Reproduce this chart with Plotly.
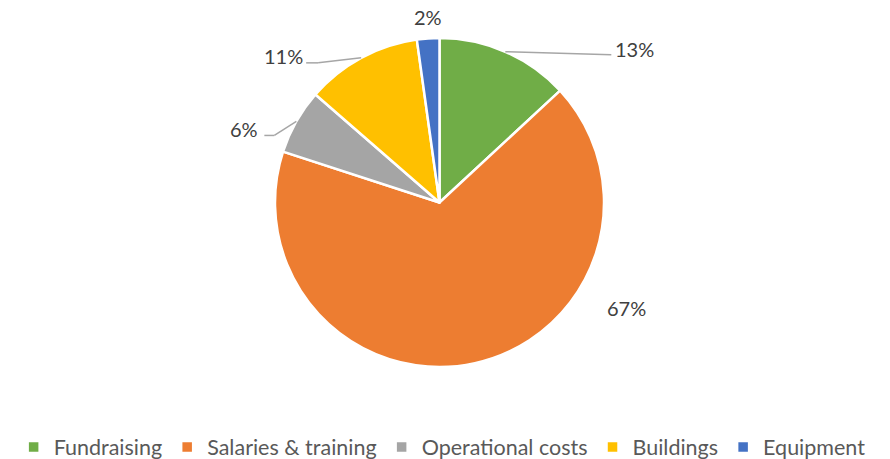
import math
import plotly.graph_objects as go

categories = ["Fundraising", "Salaries & training", "Operational costs", "Buildings", "Equipment"]
values = [13.1, 66.9, 6.4, 11.4, 2.2]
colors = ["#70AD47", "#ED7D31", "#A5A5A5", "#FFC000", "#4472C4"]

W, H = 890, 459
M_L, M_R, M_T, M_B = 0, 11, 38, 92
CX = (W - M_L - M_R) / 2 + M_L
CY = M_T + (H - M_T - M_B) / 2
R = (H - M_T - M_B) / 2

# label placement (pixels relative to slice arc midpoint), and leader elbow
label_style = {
    "Fundraising": {"dx": 129, "dy": -3, "line": [(106, 3)]},
    "Salaries & training": {"dx": 0, "dy": 0, "abs": (626, 308), "line": None},
    "Operational costs": {"dx": -52, "dy": 8, "line": [(-22, 14), (-32, 14)]},
    "Buildings": {"dx": -78, "dy": -2, "line": [(-43, 5), (-55, 5)]},
    "Equipment": {"dx": 0, "dy": -21, "line": None},
}

def to_paper(x, y):
    return (x - M_L) / (W - M_L - M_R), (H - M_B - y) / (H - M_T - M_B)

fig = go.Figure(go.Pie(
    labels=categories, values=values, sort=False, direction="clockwise",
    marker=dict(colors=colors, line=dict(color="white", width=2.5)),
    textinfo="none", textposition="inside", hoverinfo="label+percent",
    domain=dict(x=[0, 1], y=[0, 1]),
))

total = sum(values)
cum = 0
annotations = []
shapes = []
for cat, v in zip(categories, values):
    mid = (cum + v / 2) / total * 2 * math.pi
    cum += v
    ax = CX + R * math.sin(mid)
    ay = CY - R * math.cos(mid)
    st = label_style[cat]
    if "abs" in st:
        lx, ly = st["abs"]
    else:
        lx, ly = ax + st["dx"], ay + st["dy"]
    px, py = to_paper(lx, ly)
    pct = round(v / total * 100)
    annotations.append(dict(x=px, y=py, xref="paper", yref="paper", text=f"{pct}%",
                            showarrow=False, xanchor="center", yanchor="middle",
                            font=dict(family="Lato", size=20, color="#404040")))
    if st["line"]:
        pts = [(ax, ay)] + [(ax + a, ay + b) for a, b in st["line"]]
        for (x0, y0), (x1, y1) in zip(pts[:-1], pts[1:]):
            p0 = to_paper(x0, y0)
            p1 = to_paper(x1, y1)
            shapes.append(dict(type="line", xref="paper", yref="paper",
                               x0=p0[0], y0=p0[1], x1=p1[0], y1=p1[1],
                               line=dict(color="#A6A6A6", width=1.5)))

fig.update_layout(
    width=W, height=H,
    margin=dict(l=M_L, r=M_R, t=M_T, b=M_B, autoexpand=False),
    paper_bgcolor="white", plot_bgcolor="white",
    annotations=annotations, shapes=shapes,
    showlegend=True,
    legend=dict(orientation="h", x=0.503, xanchor="center", y=-0.243, yanchor="middle",
                font=dict(family="Lato", size=21.5, color="#595959"),
                traceorder="normal"),
)

fig.write_html("out.html", post_script="document.body.style.margin='0';",
               config={"displayModeBar": False})
